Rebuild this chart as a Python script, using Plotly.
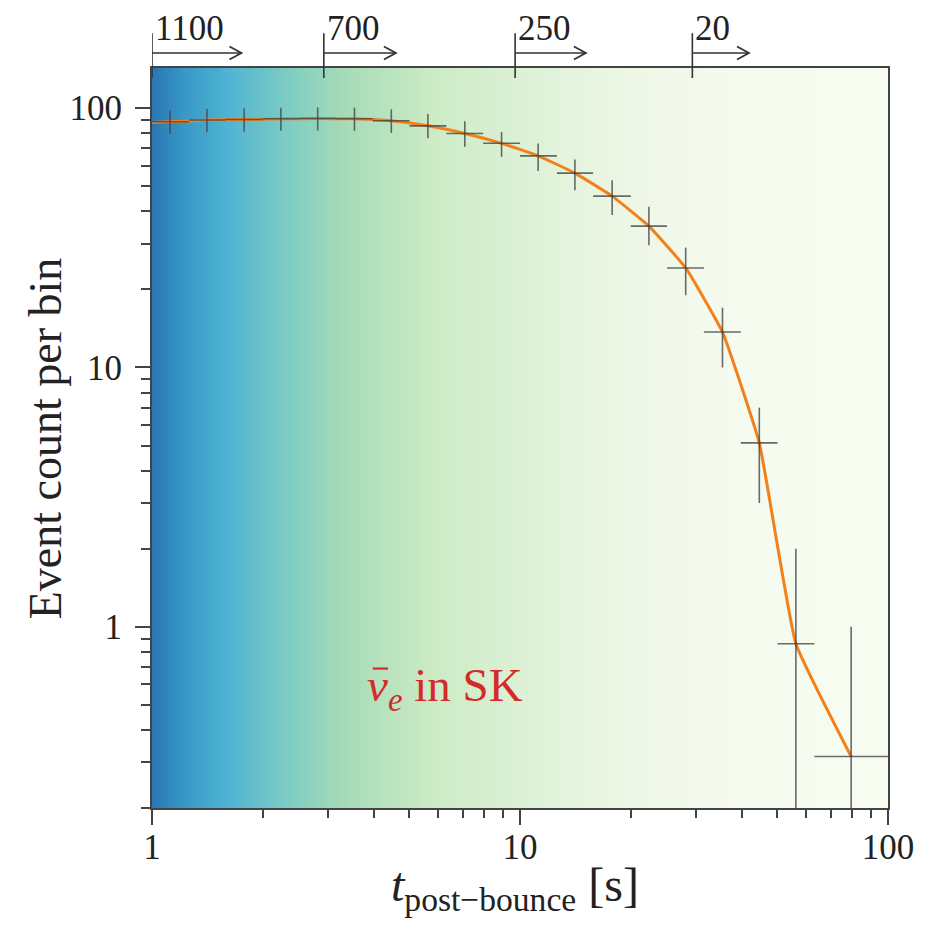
import numpy as np
import plotly.graph_objects as go

# Event counts per logarithmic time bin (post-bounce time in s)
bin_center = [1.12, 1.41, 1.78, 2.24, 2.82, 3.55, 4.47, 5.62, 7.08, 8.91,
              11.2, 14.1, 17.8, 22.4, 28.2, 35.5, 44.7, 56.2, 79.4]
bin_low = [1.0, 1.26, 1.58, 2.0, 2.51, 3.16, 3.98, 5.01, 6.31, 7.94,
           10.0, 12.6, 15.8, 20.0, 25.1, 31.6, 39.8, 50.1, 63.1]
bin_high = [1.26, 1.58, 2.0, 2.51, 3.16, 3.98, 5.01, 6.31, 7.94, 10.0,
            12.6, 15.8, 20.0, 25.1, 31.6, 39.8, 50.1, 63.1, 100.0]
counts = [88.6, 90.0, 90.4, 91.0, 91.2, 91.0, 89.4, 85.5, 79.9, 73.2,
          65.5, 56.2, 45.8, 35.1, 24.2, 13.7, 5.12, 0.86, 0.316]
count_upper = [98.0, 99.5, 100.0, 100.5, 100.8, 100.5, 99.0, 95.0, 89.0, 81.0,
               73.1, 63.4, 52.7, 41.7, 29.0, 17.0, 7.0, 2.0, 1.0]
count_lower = [79.5, 80.8, 81.2, 81.8, 82.0, 81.8, 80.2, 76.5, 71.0, 64.9,
               57.2, 48.3, 38.7, 29.6, 19.0, 10.0, 3.0, 0.01, 0.01]

# Smooth expected-rate curve
model_t = [1.0] + bin_center
model_n = [88.0] + counts

# Remaining-mass markers along the top edge
marker_t = [1.0, 2.93, 9.7, 29.4]
marker_label = ["1100", "700", "250", "20"]
marker_arrow_end = [1.75, 4.6, 15.1, 41.9]

FONT = "Liberation Serif"
YMIN, YMAX = np.log10(0.2), 2.155
INK = "#333333"
W, H = 926, 927
MARGIN = dict(l=152, r=35, t=68, b=119)
PLOT_W = W - MARGIN["l"] - MARGIN["r"]
PLOT_H = H - MARGIN["t"] - MARGIN["b"]

fig = go.Figure()

# Background colour gradient in log time
grad_t = np.logspace(0, 2, 400)
grad_z = np.log10(grad_t)
fig.add_trace(go.Heatmap(
    x=grad_t, y=[0.01, 1000], z=[grad_z, grad_z],
    colorscale=[
        [0.00, "#2a76b3"], [0.04, "#3796c6"], [0.10, "#4eb3d3"],
        [0.18, "#7bccc4"], [0.26, "#a6dbb7"], [0.38, "#ccebc5"],
        [0.50, "#dcf1d6"], [0.65, "#eef7e6"], [0.80, "#f6fbef"],
        [1.00, "#f7fcf0"],
    ],
    zmin=0, zmax=2, showscale=False, hoverinfo="skip",
))

# Model curve
fig.add_trace(go.Scatter(
    x=model_t, y=model_n, mode="lines",
    line=dict(color="#f2811c", width=3, shape="spline", smoothing=0.35),
    hoverinfo="skip", showlegend=False,
))

# Binned counts as crosses (bin width and count uncertainty)
err_plus = [u - c for u, c in zip(count_upper, counts)]
err_minus = [c - l for c, l in zip(counts, count_lower)]
x_plus = [h - c for h, c in zip(bin_high, bin_center)]
x_minus = [c - l for c, l in zip(bin_center, bin_low)]
fig.add_trace(go.Scatter(
    x=bin_center, y=counts, mode="markers",
    marker=dict(size=1, opacity=0),
    error_y=dict(type="data", array=err_plus, arrayminus=err_minus,
                 color="rgba(70,70,70,0.8)", thickness=1.6, width=0),
    error_x=dict(type="data", array=x_plus, arrayminus=x_minus,
                 color="rgba(70,70,70,0.8)", thickness=1.6, width=0),
    showlegend=False,
))

# Top markers: tick line, arrow (shaft + open chevron head) and label
ARROW_Y = 1.0203
HEAD_LEN = 12 / (PLOT_W / 2)      # head length in decades of t
HEAD_HALF = 6.5 / PLOT_H          # head half-height in paper units
for t0, lab, t1 in zip(marker_t, marker_label, marker_arrow_end):
    fig.add_shape(type="line", xref="x", yref="paper",
                  x0=t0, x1=t0, y0=0.9865, y1=1.047,
                  line=dict(color=INK, width=1.6))
    fig.add_shape(type="line", xref="x", yref="paper",
                  x0=t0, x1=t1, y0=ARROW_Y, y1=ARROW_Y,
                  line=dict(color=INK, width=1.6))
    head_back = 10 ** (np.log10(t1) - HEAD_LEN)
    fig.add_shape(type="path", xref="x", yref="paper",
                  path=(f"M {head_back},{ARROW_Y + HEAD_HALF} "
                        f"L {t1},{ARROW_Y} L {head_back},{ARROW_Y - HEAD_HALF}"),
                  line=dict(color=INK, width=1.8))
    fig.add_annotation(x=np.log10(t0), y=1.0534, xref="x", yref="paper",
                       text=lab, showarrow=False, xanchor="left",
                       yanchor="middle", xshift=1,
                       font=dict(family=FONT, size=35, color="#222222"))

# Channel label, with the bar over nu drawn as a short line
label_t, label_n = 3.80, 0.58
fig.add_annotation(x=np.log10(label_t), y=np.log10(label_n), xref="x", yref="y",
                   text="<i>ν</i><sub><i>e</i></sub> in SK", showarrow=False,
                   xanchor="left", yanchor="middle",
                   font=dict(family=FONT, size=47, color="#d42a2a"))
fig.add_shape(type="line", xref="x", yref="y", x0=3.98, x1=4.38,
              y0=0.69, y1=0.69, line=dict(color="#d42a2a", width=2.2))

# Axis titles
fig.add_annotation(x=-0.145, y=0.5, xref="paper", yref="paper",
                   text="Event count per bin", textangle=-90, showarrow=False,
                   xanchor="center", yanchor="middle",
                   font=dict(family=FONT, size=46, color="#222222"))
fig.add_annotation(x=0.493, y=-0.108, xref="paper", yref="paper",
                   text="<i>t</i><sub>post−bounce</sub> [s]", showarrow=False,
                   xanchor="center", yanchor="middle",
                   font=dict(family=FONT, size=48, color="#222222"))

minor_y = [v * m for m in (0.1, 1, 10) for v in range(2, 10)]
minor_x = [v * m for m in (1, 10) for v in range(2, 10)]

axis_common = dict(
    showline=True, linecolor="#444444", linewidth=2, mirror=True,
    ticks="outside", ticklen=15, tickwidth=2, tickcolor="#444444",
    showgrid=False, zeroline=False,
    tickfont=dict(family=FONT, size=35, color="#222222"),
)

fig.update_xaxes(
    type="log", range=[0, 2],
    tickvals=[1, 10, 100], ticktext=["1", "10", "100"],
    minor=dict(ticks="outside", ticklen=8, tickwidth=2, tickcolor="#444444",
               tickvals=minor_x, showgrid=False),
    ticklabelstandoff=-8,
    **axis_common,
)
fig.update_yaxes(
    type="log", range=[YMIN, YMAX],
    tickvals=[1, 10, 100], ticktext=["1", "10", "100"],
    minor=dict(ticks="outside", ticklen=9, tickwidth=2, tickcolor="#444444",
               tickvals=minor_y, showgrid=False),
    ticklabelstandoff=6,
    **axis_common,
)

fig.update_layout(
    width=W, height=H,
    margin=MARGIN,
    paper_bgcolor="white", plot_bgcolor="white",
    showlegend=False,
)

fig.write_html("out.html")
